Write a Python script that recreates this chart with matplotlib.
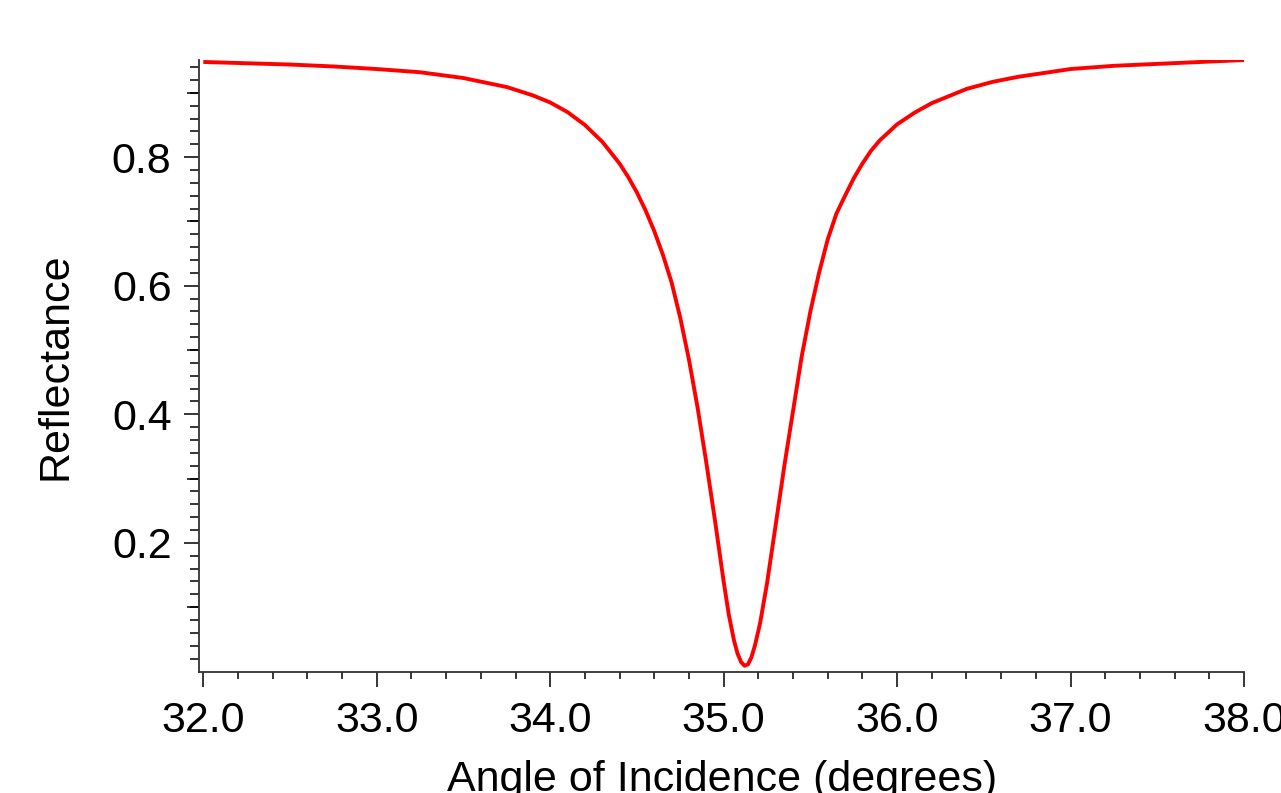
import numpy as np
import matplotlib
matplotlib.use("Agg")
import matplotlib.pyplot as plt
from matplotlib.ticker import FixedLocator, FormatStrFormatter

# values (angle in degrees, reflectance)
angle = [32.00, 32.25, 32.50, 32.75, 33.00, 33.25, 33.50, 33.75, 33.90, 34.00,
         34.10, 34.20, 34.30, 34.40, 34.45, 34.50, 34.55, 34.60, 34.65, 34.70,
         34.75, 34.80, 34.85, 34.90, 34.95, 35.00, 35.03, 35.06, 35.08, 35.10,
         35.12, 35.14, 35.16, 35.18, 35.21, 35.25, 35.30, 35.35, 35.40, 35.45,
         35.50, 35.55, 35.60, 35.65, 35.70, 35.75, 35.80, 35.85, 35.90, 36.00,
         36.10, 36.20, 36.40, 36.55, 36.70, 37.00, 37.25, 37.50, 37.75, 38.00]
reflectance = [0.948, 0.946, 0.944, 0.941, 0.937, 0.932, 0.923, 0.909, 0.896, 0.885,
               0.870, 0.850, 0.824, 0.790, 0.769, 0.745, 0.717, 0.685, 0.648, 0.605,
               0.550, 0.485, 0.410, 0.325, 0.235, 0.140, 0.088, 0.048, 0.028, 0.015,
               0.009, 0.011, 0.022, 0.040, 0.075, 0.137, 0.228, 0.320, 0.405, 0.490,
               0.560, 0.620, 0.672, 0.712, 0.740, 0.767, 0.790, 0.810, 0.826, 0.851,
               0.869, 0.884, 0.906, 0.917, 0.925, 0.937, 0.942, 0.945, 0.948, 0.951]

x_major = [32, 33, 34, 35, 36, 37, 38]
y_major = [0.2, 0.4, 0.6, 0.8]
y_mid = [0.1, 0.3, 0.5, 0.7, 0.9]

plt.rcParams["font.family"] = ["Liberation Sans", "DejaVu Sans"]

fig = plt.figure(figsize=(12.81, 7.93), dpi=100)
ax = fig.add_axes([0.1556, 0.1532, 0.8155, 0.7711])

ax.plot(angle, reflectance, color="#ff0000", lw=2.8,
        solid_joinstyle="round", solid_capstyle="butt")

ax.set_xlim(31.977, 38.0)
ax.set_ylim(0.0, 0.951)

for side in ("top", "right"):
    ax.spines[side].set_visible(False)
for side in ("left", "bottom"):
    ax.spines[side].set_linewidth(1.3)
    ax.spines[side].set_color("#333333")

ax.xaxis.set_major_locator(FixedLocator(x_major))
ax.xaxis.set_minor_locator(FixedLocator(np.arange(32.0, 38.01, 0.2)))
ax.xaxis.set_major_formatter(FormatStrFormatter("%.1f"))
ax.yaxis.set_major_locator(FixedLocator(y_major))
ax.yaxis.set_minor_locator(FixedLocator(np.arange(0.02, 0.95, 0.02)))
ax.yaxis.set_major_formatter(FormatStrFormatter("%.1f"))

ax.tick_params(axis="both", which="both", direction="out", width=1.1,
               color="#000000", labelsize=31)
ax.tick_params(axis="x", which="major", length=11, pad=10)
ax.tick_params(axis="x", which="minor", length=5.3)
ax.tick_params(axis="y", which="major", length=11, pad=9)
ax.tick_params(axis="y", which="minor", length=6.3)

# mid-length ticks at the odd tenths
sec = ax.secondary_yaxis("left")
sec.spines["left"].set_visible(False)
sec.yaxis.set_major_locator(FixedLocator(y_mid))
sec.yaxis.set_minor_locator(FixedLocator([]))
sec.tick_params(axis="y", which="major", direction="out", length=8.4,
                width=1.1, labelleft=False)

ax.set_xlabel("Angle of Incidence (degrees)", fontsize=31, labelpad=14)
ax.set_ylabel("Reflectance", fontsize=31, labelpad=26)

fig.savefig("out.png", dpi=100)
